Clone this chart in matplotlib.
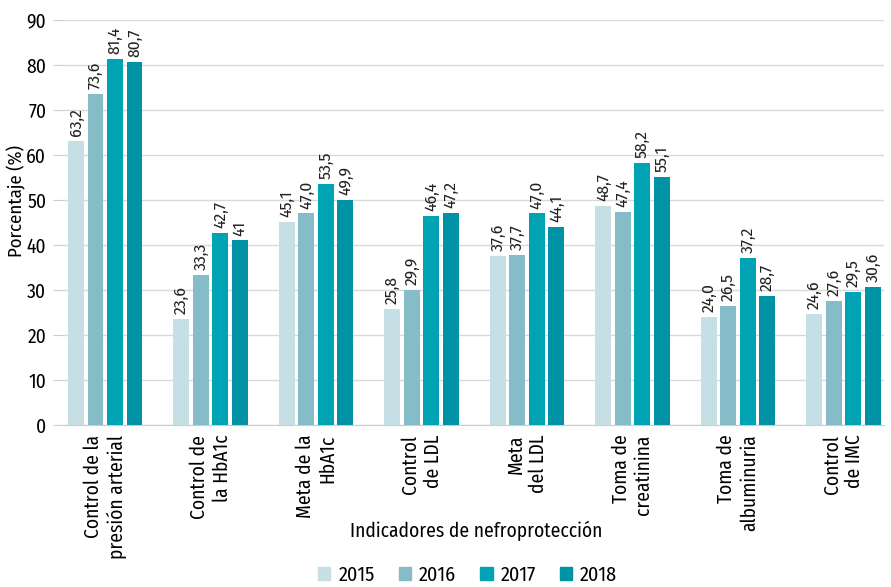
import numpy as np
import matplotlib
matplotlib.use("Agg")
from matplotlib import pyplot as plt
from matplotlib.patches import Patch

plt.rcParams['font.family'] = ['Fira Sans Condensed', 'DejaVu Sans']

categorias = ["Control de la\npresión arterial", "Control de\nla HbA1c", "Meta de la\nHbA1c",
              "Control\nde LDL", "Meta\ndel LDL", "Toma de\ncreatinina",
              "Toma de\nalbuminuria", "Control\nde IMC"]
anios = ["2015", "2016", "2017", "2018"]
v2015 = [63.2, 23.6, 45.1, 25.8, 37.6, 48.7, 24.0, 24.6]
v2016 = [73.6, 33.3, 47.0, 29.9, 37.7, 47.4, 26.5, 27.6]
v2017 = [81.4, 42.7, 53.5, 46.4, 47.0, 58.2, 37.2, 29.5]
v2018 = [80.7, 41.0, 49.9, 47.2, 44.1, 55.1, 28.7, 30.6]
etiquetas = [
    ["63,2", "23,6", "45,1", "25,8", "37,6", "48,7", "24,0", "24,6"],
    ["73,6", "33,3", "47,0", "29,9", "37,7", "47,4", "26,5", "27,6"],
    ["81,4", "42,7", "53,5", "46,4", "47,0", "58,2", "37,2", "29,5"],
    ["80,7", "41", "49,9", "47,2", "44,1", "55,1", "28,7", "30,6"],
]
colores = ["#c6dfe4", "#86bcc8", "#00a3b4", "#0093a5"]

fig = plt.figure(figsize=(8.91, 5.87), dpi=100)
ax = fig.add_axes([0.0707, 0.276, 0.922, 0.690])

x = np.arange(len(categorias))
ancho = 0.15
paso = 0.185
series = [v2015, v2016, v2017, v2018]
for i, vals in enumerate(series):
    pos = x + (i - 1.5) * paso
    ax.bar(pos, vals, width=ancho, color=colores[i], zorder=3)
    for p, v, t in zip(pos, vals, etiquetas[i]):
        ax.text(p, v + 1.1, t, rotation=90, ha="center", va="bottom",
                fontsize=12.5, color="#222222", clip_on=False)

ax.set_ylim(0, 90)
ax.set_xlim(-0.40, 7.39)
ax.set_yticks(range(0, 91, 10))
ax.tick_params(axis="y", length=7, color="#cccccc", labelsize=14, pad=5)
ax.grid(axis="y", color="#d9d9d9", linewidth=1, zorder=0)
for s in ["top", "right", "left"]:
    ax.spines[s].set_visible(False)
ax.spines["bottom"].set_color("#cccccc")
ax.set_xticks(x)
ax.set_xticklabels(categorias, rotation=90, ha="center", va="top",
                   multialignment="right", fontsize=14)
ax.tick_params(axis="x", length=0, pad=7)
fig.text(0.008, 0.658, "Porcentaje (%)", rotation=90, ha="left", va="center", fontsize=13.5)
fig.text(0.535, 0.085, "Indicadores de nefroprotección", ha="center", fontsize=14)

handles = [Patch(color=c) for c in colores]
fig.legend(handles, anios, loc="center", bbox_to_anchor=(0.525, 0.02), ncol=4,
           frameon=False, fontsize=14.5, handlelength=0.6, handleheight=0.6,
           handletextpad=0.4, columnspacing=1.2)

fig.savefig("out.png", dpi=100)
